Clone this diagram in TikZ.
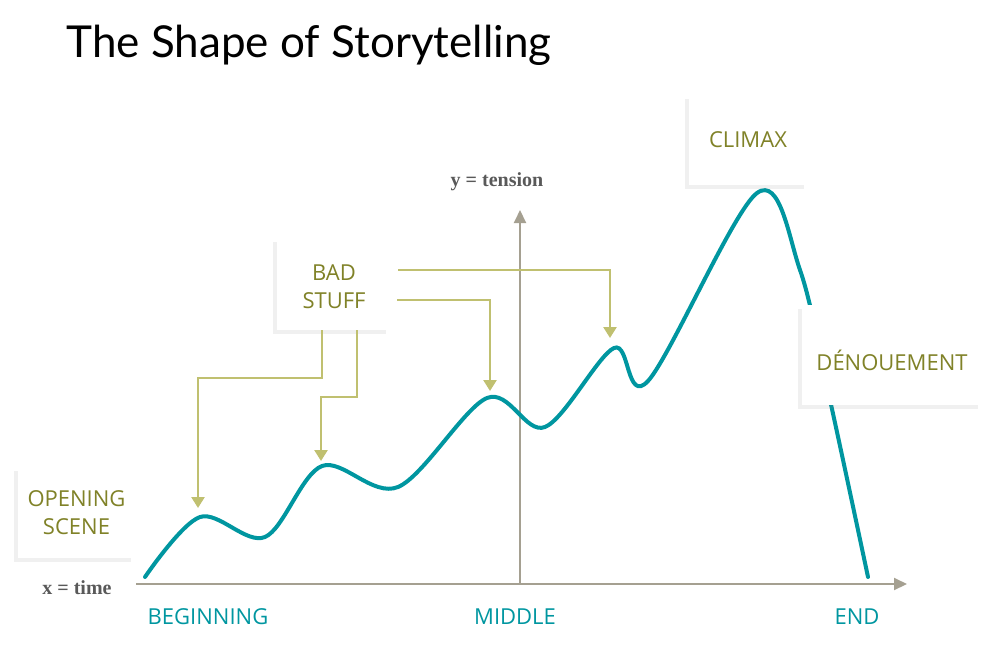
\documentclass[tikz,border=0pt]{standalone}
\usepackage{fontspec}
\setmainfont{Liberation Serif}
\newfontfamily\labfont{Open Sans}
\newfontfamily\titlefont{Lato}
\usetikzlibrary{arrows.meta,shadows}
\definecolor{teal1}{RGB}{0,150,160}
\definecolor{olive1}{RGB}{128,130,40}
\definecolor{arr}{RGB}{192,192,112}
\definecolor{axis}{RGB}{165,160,145}
\tikzset{
 box/.style={fill=white,inner sep=0pt,
   drop shadow={opacity=0.12,shadow xshift=-4pt,shadow yshift=-4pt}},
 lab/.style={font=\labfont\fontsize{22}{28}\selectfont,text=olive1,align=center},
 tlab/.style={font=\labfont\fontsize{22}{28}\selectfont,text=teal1},
 alab/.style={font=\bfseries\fontsize{20}{24}\selectfont,text=black!65},
 bad/.style={draw=arr,line width=2.5pt,-{Triangle[width=13pt,length=11pt]}},
 ax/.style={draw=axis,line width=2pt,-{Triangle[width=12pt,length=13pt]}}
}
\begin{document}
\begin{tikzpicture}[x=1pt,y=-1pt]
\useasboundingbox (0,0) rectangle (1000,653);
\node[anchor=base west,font=\titlefont\fontsize{44}{50}\selectfont] (title) at (63,57) {The Shape of Storytelling};
\coordinate (x0) at (136,584);
\coordinate (x1) at (907,584);
\coordinate (y0) at (520,584);
\coordinate (y1) at (520,210);
\draw[ax] (x0) -- (x1);
\draw[ax] (y0) -- (y1);
\node[alab] (xl) at (77,588) {x = time};
\node[alab] (yl) at (497,182) {y = tension};
\node[tlab] (b) at (208,617) {BEGINNING};
\node[tlab] (m) at (515,617) {MIDDLE};
\node[tlab] (e) at (857,617) {END};
\draw[teal1,line width=4pt,line cap=round] plot[smooth,tension=0.55] coordinates {
 (145,577) (200,517) (265,537) (322,466) (398,487) (487,398) (545,427) (614,348) (648,381) (757,193) (800,270) (830,400) (868,577)};
\node[box,minimum width=117pt,minimum height=91pt] (os) at (76.5,512.5) {};
\node[lab] at (os) {OPENING\\SCENE};
\node[box,minimum width=113pt,minimum height=92pt] (bs) at (333.5,284) {};
\node[lab] at (334,287) {BAD\\STUFF};
\node[box,minimum width=119pt,minimum height=90pt] (cl) at (748.5,140) {};
\node[lab] at (748,140) {CLIMAX};
\node[box,minimum width=180pt,minimum height=100pt] (dn) at (892,355) {};
\node[lab] at (892,360) {DÉNOUEMENT};
\coordinate (a1) at (322,330);
\coordinate (a2) at (357,330);
\coordinate (a3) at (397,300);
\coordinate (a4) at (398,270);
\coordinate (t1) at (198,508);
\coordinate (t2) at (321,461);
\coordinate (t3) at (490,391);
\coordinate (t4) at (610,338);
\draw[bad] (a1) |- (198,378) -- (t1);
\draw[bad] (a2) |- (321,397) -- (t2);
\draw[bad] (a3) -| (t3);
\draw[bad] (a4) -| (t4);
\end{tikzpicture}
\end{document}
